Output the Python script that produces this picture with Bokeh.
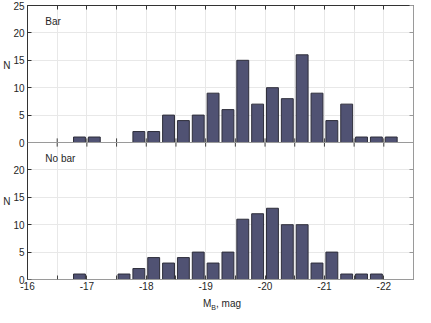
from bokeh.plotting import figure
from bokeh.models import Range1d, LinearAxis, FixedTicker, Label, Span, Div
from bokeh.layouts import column
from bokeh.embed import file_html
from bokeh.resources import INLINE

# ---- data ----
bin_centers = [-16.875, -17.125, -17.375, -17.625, -17.875, -18.125, -18.375,
               -18.625, -18.875, -19.125, -19.375, -19.625, -19.875, -20.125,
               -20.375, -20.625, -20.875, -21.125, -21.375, -21.625, -21.875,
               -22.125]
bar_counts = [1, 1, 0, 0, 2, 2, 5, 4, 5, 9, 6, 15, 7, 10, 8, 16, 9, 4, 7, 1, 1, 1]
nobar_counts = [1, 0, 0, 1, 2, 4, 3, 4, 5, 3, 5, 11, 12, 13, 10, 10, 3, 5, 1, 1, 1, 0]

x_ticks = [-16, -16.5, -17, -17.5, -18, -18.5, -19, -19.5, -20, -20.5,
           -21, -21.5, -22, -22.5]
x_tick_labels = ["-16", "", "-17", "", "-18", "", "-19", "", "-20", "",
                 "-21", "", "-22", ""]
y_ticks = [0, 5, 10, 15, 20, 25, 30, 35, 40, 45, 50]
y_tick_labels = ["0", "5", "10", "15", "20", "0", "5", "10", "15", "20", "25"]
panel_offset = 25          # top panel ("Bar") is stacked above the bottom one
panel_names = ["Bar", "No bar"]
ylabel_pos = [39, 14.3]
ylabel_text = ["N", "N"]
bin_width = 0.2

FONT = "Liberation Sans"
TXT = "#262626"
BAR_FILL = "#505273"
BAR_LINE = "#2e2e3a"
GRID = "#e8e8e8"
GREY = "#9a9a9a"

p = figure(width=415, height=293, output_backend="svg", toolbar_location=None,
           x_range=Range1d(-16, -22.5), y_range=Range1d(0, 50),
           min_border_left=20, min_border_right=2, min_border_top=5,
           min_border_bottom=14)
p.outline_line_color = None

xt = FixedTicker(ticks=x_ticks)
yt = FixedTicker(ticks=y_ticks)
xover = {t: l for t, l in zip(x_ticks, x_tick_labels)}
yover = {t: l for t, l in zip(y_ticks, y_tick_labels)}

def style_axis(ax, line_color, labels=True):
    ax.axis_line_color = line_color
    ax.major_tick_line_color = line_color
    ax.minor_tick_line_color = None
    ax.major_tick_in = 4
    ax.major_tick_out = 0
    ax.major_label_standoff = 3
    ax.major_label_text_font = FONT
    ax.major_label_text_font_size = "10px" if labels else "0px"
    ax.major_label_text_color = TXT

p.xaxis.ticker = xt
p.xaxis.major_label_overrides = xover
style_axis(p.xaxis[0], GREY)
p.xaxis.major_tick_line_color = "#404040"
p.xaxis.major_label_standoff = 2
p.yaxis.ticker = yt
p.yaxis.major_label_overrides = yover
style_axis(p.yaxis[0], "#333333")
p.yaxis.major_label_standoff = 3

# outer left axis carrying the two "N" labels
n_ax = LinearAxis(ticker=FixedTicker(ticks=ylabel_pos),
                  major_label_overrides={t: s for t, s in zip(ylabel_pos, ylabel_text)})
style_axis(n_ax, None)
n_ax.axis_line_color = None
n_ax.major_tick_line_color = None
n_ax.major_tick_in = 0
n_ax.major_label_standoff = 0
p.add_layout(n_ax, "left")

top_ax = LinearAxis(ticker=xt)
style_axis(top_ax, "#333333", labels=False)
top_ax.major_label_overrides = {t: "" for t in x_ticks}
p.add_layout(top_ax, "above")
right_ax = LinearAxis(ticker=yt)
style_axis(right_ax, GREY, labels=False)
right_ax.major_label_overrides = {t: "" for t in y_ticks}
p.add_layout(right_ax, "right")

p.xgrid.ticker = xt
p.ygrid.ticker = yt
p.xgrid.grid_line_color = GRID
p.ygrid.grid_line_color = GRID

# bars (empty bins are not drawn)
bx = [c for c, n in zip(bin_centers, bar_counts) if n > 0]
bt = [panel_offset + n for n in bar_counts if n > 0]
nx = [c for c, n in zip(bin_centers, nobar_counts) if n > 0]
nt = [n for n in nobar_counts if n > 0]
p.vbar(x=bx, width=bin_width, bottom=[panel_offset] * len(bx), top=bt,
       fill_color=BAR_FILL, line_color=BAR_LINE, line_width=1)
p.vbar(x=nx, width=bin_width, bottom=[0] * len(nx), top=nt,
       fill_color=BAR_FILL, line_color=BAR_LINE, line_width=1)

p.add_layout(Span(location=panel_offset, dimension="width", line_color=GREY, line_width=1))
p.add_layout(Span(location=0, dimension="width", line_color=GREY, line_width=1))

inner = x_ticks[1:-1]
d = 0.75
p.segment(x0=inner, y0=[panel_offset - d] * len(inner), x1=inner,
          y1=[panel_offset + d] * len(inner), line_color="#404040", line_width=1)

for name, yy in zip(panel_names, [panel_offset + 22, 22]):
    p.add_layout(Label(x=-16.3, y=yy, text=name, text_font=FONT,
                       text_font_size="10px", text_color=TXT,
                       text_baseline="middle", text_align="left"))

xlabel = Div(text='M<sub style="font-size:7px;vertical-align:-3px;">B</sub>, mag',
             width=415, height=14,
             styles={"font-family": FONT, "font-size": "10px", "color": TXT,
                     "padding-left": "198px", "line-height": "12px",
                     "white-space": "nowrap"})

layout = column(p, xlabel, spacing=0)
open("out.html", "w").write(file_html(layout, INLINE))
